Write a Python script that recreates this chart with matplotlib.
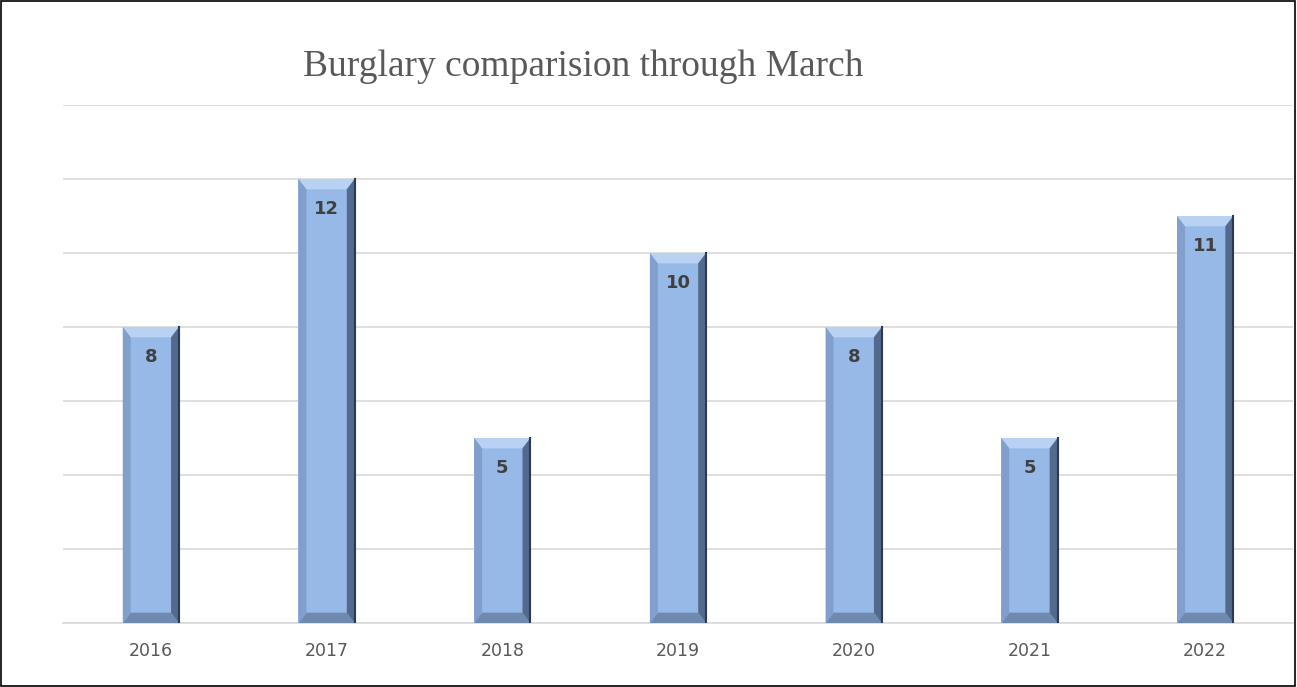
import matplotlib.pyplot as plt
from matplotlib.patches import Polygon

years = ['2016', '2017', '2018', '2019', '2020', '2021', '2022']
burglaries = [8, 12, 5, 10, 8, 5, 11]

fig = plt.figure(figsize=(12.97, 6.87), dpi=100)
ax = fig.add_axes([63 / 1297, 64 / 687, 1230 / 1297, 518 / 687])

bars = ax.bar(years, burglaries, width=0.32, color='#97b9e7', zorder=2)
ax.set_xlim(-0.5, len(years) - 0.5)
ax.set_ylim(0, 14)
ax.set_yticks(range(0, 15, 2))
ax.yaxis.grid(True, color='#d9d9d9', linewidth=1.2, zorder=0)
ax.set_yticklabels([])
ax.tick_params(axis='y', length=0)
ax.tick_params(axis='x', length=0, pad=14, labelsize=12.5, labelcolor='#595959')
for s in ['top', 'right', 'left']:
    ax.spines[s].set_visible(False)
ax.spines['bottom'].set_color('#d9d9d9')
ax.spines['bottom'].set_linewidth(1.2)

# bevel edges on each bar
bx = 0.045
by = 0.28
for b, v in zip(bars, burglaries):
    x0 = b.get_x()
    x1 = x0 + b.get_width()
    h = b.get_height()
    top = Polygon([(x0, h), (x1, h), (x1 - bx, h - by), (x0 + bx, h - by)],
                  closed=True, color='#b9d2f3', zorder=3, lw=0)
    bot = Polygon([(x0, 0), (x1, 0), (x1 - bx, by), (x0 + bx, by)],
                  closed=True, color='#7089b0', zorder=3, lw=0)
    left = Polygon([(x0, 0), (x0 + bx, by), (x0 + bx, h - by), (x0, h)],
                   closed=True, color='#819fcb', zorder=3, lw=0)
    right = Polygon([(x1, 0), (x1 - bx, by), (x1 - bx, h - by), (x1, h)],
                    closed=True, color='#526a8e', zorder=3, lw=0)
    for p in (top, bot, left, right):
        ax.add_patch(p)
    ax.plot([x1, x1], [0, h], color='#2c3a50', lw=1.5, zorder=4)
    ax.text(b.get_x() + b.get_width() / 2, h - 0.8, str(v), ha='center', va='center',
            fontsize=13, fontweight='bold', color='#404040', zorder=5)

fig.text(583 / 1297, 1 - 67 / 687, 'Burglary comparision through March', ha='center', va='center',
         family='Liberation Serif', fontsize=27, color='#595959')

border = plt.Rectangle((0.0005, 0.001), 0.998, 0.997, transform=fig.transFigure,
                       fill=False, edgecolor='black', linewidth=1.2)
fig.patches.append(border)

plt.savefig('out.png', dpi=100)
